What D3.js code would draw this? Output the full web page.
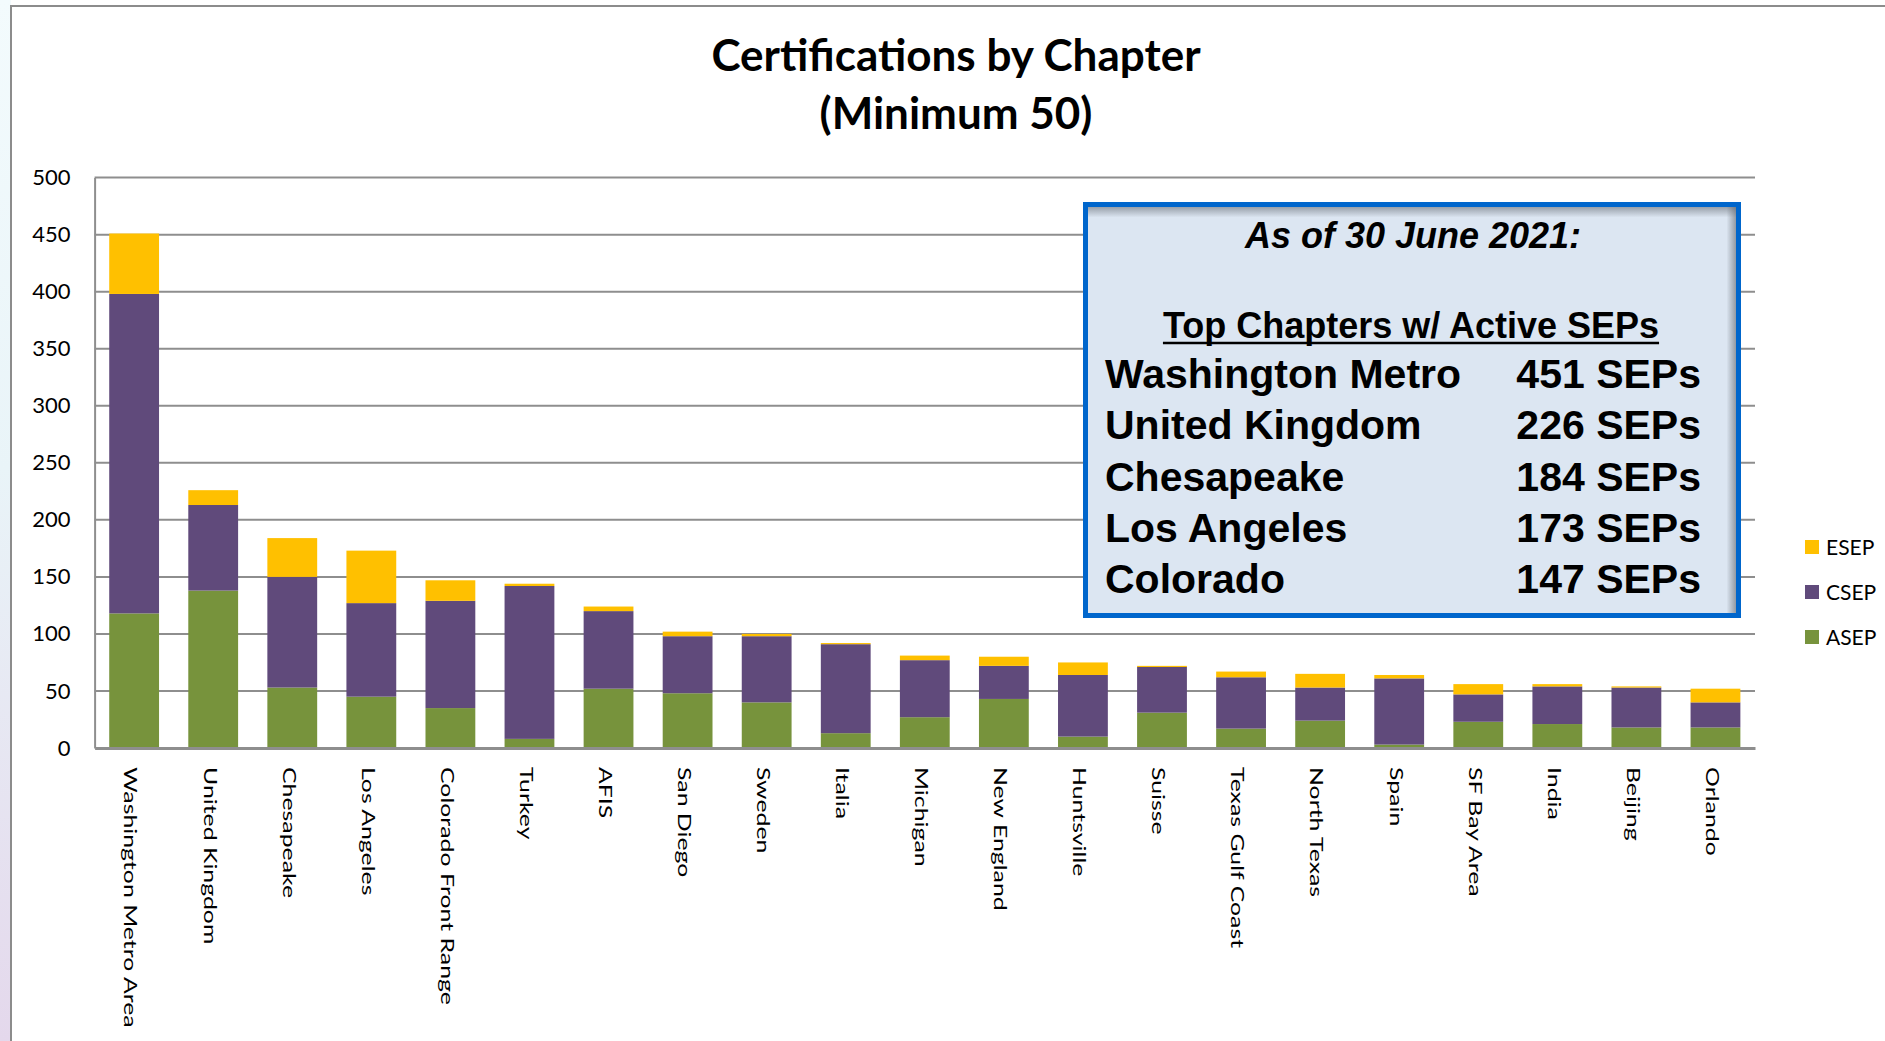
<!DOCTYPE html>
<html>
<head>
<meta charset="utf-8">
<script src="https://cdn.jsdelivr.net/npm/d3@7"></script>
<style>
  html, body { margin: 0; padding: 0; background: #fff; }
  svg { display: block; }
</style>
</head>
<body>
<svg id="chart" width="1885" height="1041"></svg>
<script>
// ---------------- data ----------------
const categories = ["Washington Metro Area","United Kingdom","Chesapeake","Los Angeles","Colorado Front Range","Turkey","AFIS","San Diego","Sweden","Italia","Michigan","New England","Huntsville","Suisse","Texas Gulf Coast","North Texas","Spain","SF Bay Area","India","Beijing","Orlando"];
const asep = [118,138,53,45,35,8,52,48,40,13,27,43,10,31,17,24,3,23,21,18,18];
const csep = [280,75,97,82,94,134,68,50,58,78,50,29,54,40,45,29,58,24,33,35,22];
const esep = [53,13,34,46,18,2,4,4,2,1,4,8,11,1,5,12,3,9,2,1,12];
const seriesNames = ["ASEP","CSEP","ESEP"];
const seriesColors = ["#77933C","#604A7B","#FFC000"];
const yTicks = [0,50,100,150,200,250,300,350,400,450,500];
const titleLines = ["Certifications by Chapter","(Minimum 50)"];
const boxHeading = "As of 30 June 2021:";
const boxSubheading = "Top Chapters w/ Active SEPs";
const topChapters = ["Washington Metro","United Kingdom","Chesapeake","Los Angeles","Colorado"];
const topCounts = [451,226,184,173,147];

// ---------------- setup ----------------
const svg = d3.select("#chart");
const defs = svg.append("defs");

// slide background strip on left
const bg = defs.append("linearGradient").attr("id","bgGrad").attr("x1",0).attr("y1",0).attr("x2",0).attr("y2",1);
bg.append("stop").attr("offset","0%").attr("stop-color","#f3fbfd");
bg.append("stop").attr("offset","45%").attr("stop-color","#e9f4f8");
bg.append("stop").attr("offset","100%").attr("stop-color","#e4d8ec");
svg.append("rect").attr("x",0).attr("y",0).attr("width",11).attr("height",1041).attr("fill","url(#bgGrad)");

// outer frame
svg.append("path").attr("d","M11,1041 L11,6 L1885,6").attr("fill","none").attr("stroke","#8c8c8c").attr("stroke-width",2);

// title
svg.append("g").selectAll("text").data(titleLines).join("text")
  .attr("x",956).attr("y",(d,i)=>71 + i*58)
  .attr("text-anchor","middle")
  .attr("font-family","Lato, 'Open Sans', sans-serif")
  .attr("font-weight","bold").attr("font-size",44)
  .attr("fill","#000")
  .text(d=>d);

// scales
const x = d3.scaleBand().domain(categories).range([94.6,1755]).paddingInner(0.37).paddingOuter(0.185);
const y = d3.scaleLinear().domain([0,500]).range([748,177.6]);

// gridlines
svg.append("g").selectAll("line").data(yTicks.filter(t=>t>0)).join("line")
  .attr("x1",94.6).attr("x2",1755)
  .attr("y1",d=>y(d)).attr("y2",d=>y(d))
  .attr("stroke","#8e8e8e").attr("stroke-width",2);

// y axis labels
const yAxis = d3.axisLeft(y).tickValues(yTicks).tickSize(0).tickPadding(24);
const yg = svg.append("g").attr("transform","translate(94.6,0)").call(yAxis);
yg.select(".domain").attr("stroke","#8e8e8e").attr("stroke-width",2);
yg.selectAll("text").attr("font-family","Lato, 'Open Sans', sans-serif").attr("font-size",22).attr("fill","#000");

// stacked bars
const rows = categories.map((c,i)=>({cat:c, ASEP:asep[i], CSEP:csep[i], ESEP:esep[i]}));
const stack = d3.stack().keys(seriesNames)(rows);
svg.append("g").selectAll("g").data(stack).join("g")
  .attr("fill",(d,i)=>seriesColors[i])
  .selectAll("rect").data(d=>d).join("rect")
  .attr("x",d=>x(d.data.cat))
  .attr("width",x.bandwidth())
  .attr("y",d=>y(d[1]))
  .attr("height",d=>y(d[0])-y(d[1]));

// x axis
const xAxis = d3.axisBottom(x).tickSize(0).tickPadding(0);
const xg = svg.append("g").attr("transform","translate(0,748)").call(xAxis);
xg.select(".domain").attr("stroke","#8e8e8e").attr("stroke-width",3);
xg.selectAll(".tick text")
  .attr("font-family","Lato, 'Open Sans', sans-serif")
  .attr("font-size",18).attr("fill","#000")
  .attr("text-anchor","start")
  .attr("dy","0")
  .attr("y",0).attr("x",0)
  .attr("dominant-baseline","central")
  .attr("transform","translate(-3,19) rotate(90) scale(1.38,1)");

// legend (top to bottom: ESEP, CSEP, ASEP)
const legendOrder = [2,1,0];
const lg = svg.append("g").selectAll("g").data(legendOrder).join("g")
  .attr("transform",(d,i)=>`translate(1805,${540 + i*45})`);
lg.append("rect").attr("width",14).attr("height",14).attr("fill",d=>seriesColors[d]);
lg.append("text").attr("x",21).attr("y",15)
  .attr("font-family","Lato, 'Open Sans', sans-serif").attr("font-size",21).attr("fill","#000")
  .text(d=>seriesNames[d]);

// text box
const bx = 1085.5, by = 204.5, bw = 653, bh = 411;
const tg = defs.append("linearGradient").attr("id","shTop").attr("x1",0).attr("y1",0).attr("x2",0).attr("y2",1);
tg.append("stop").attr("offset","0%").attr("stop-color","#5a6068").attr("stop-opacity",0.55);
tg.append("stop").attr("offset","100%").attr("stop-color","#5a6068").attr("stop-opacity",0);
const rg = defs.append("linearGradient").attr("id","shRight").attr("x1",1).attr("y1",0).attr("x2",0).attr("y2",0);
rg.append("stop").attr("offset","0%").attr("stop-color","#5a6068").attr("stop-opacity",0.6);
rg.append("stop").attr("offset","100%").attr("stop-color","#5a6068").attr("stop-opacity",0);

const box = svg.append("g");
box.append("rect").attr("x",bx).attr("y",by).attr("width",bw).attr("height",bh).attr("fill","#DCE6F2");
box.append("rect").attr("x",bx+2).attr("y",by+2).attr("width",bw-4).attr("height",11).attr("fill","url(#shTop)");
box.append("rect").attr("x",bx+bw-12).attr("y",by+2).attr("width",10).attr("height",bh-4).attr("fill","url(#shRight)");
box.append("rect").attr("x",bx).attr("y",by).attr("width",bw).attr("height",bh)
  .attr("fill","none").attr("stroke","#0066CC").attr("stroke-width",5);

const boxFont = "'Liberation Sans', Arial, sans-serif";
box.append("text").attr("x",1413).attr("y",248).attr("text-anchor","middle")
  .attr("font-family",boxFont).attr("font-weight","bold").attr("font-style","italic")
  .attr("font-size",36).attr("fill","#000").text(boxHeading);
const sub = box.append("text").attr("x",1411).attr("y",338).attr("text-anchor","middle")
  .attr("font-family",boxFont).attr("font-weight","bold")
  .attr("font-size",36).attr("fill","#000").text(boxSubheading);
const sb = sub.node().getBBox();
box.append("line").attr("x1",sb.x).attr("x2",sb.x+sb.width).attr("y1",343).attr("y2",343)
  .attr("stroke","#000").attr("stroke-width",2.5);

const rowG = box.append("g").selectAll("g").data(topChapters).join("g")
  .attr("transform",(d,i)=>`translate(0,${388 + i*51.3})`);
rowG.append("text").attr("x",1105).attr("y",0)
  .attr("font-family",boxFont).attr("font-weight","bold").attr("font-size",41).attr("fill","#000")
  .text(d=>d);
rowG.append("text").attr("x",1701).attr("y",0).attr("text-anchor","end")
  .attr("font-family",boxFont).attr("font-weight","bold").attr("font-size",41).attr("fill","#000")
  .text((d,i)=>`${topCounts[i]} SEPs`);
</script>
</body>
</html>
